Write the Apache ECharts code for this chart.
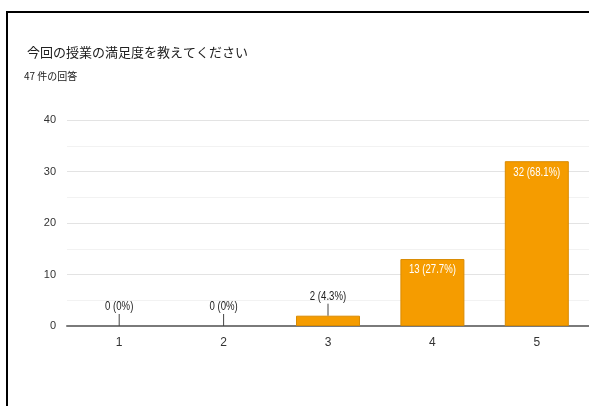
<!DOCTYPE html>
<html>
<head>
<meta charset="utf-8">
<script src="https://cdn.jsdelivr.net/npm/echarts@6/dist/echarts.min.js"></script>
<style>
html,body{margin:0;padding:0;background:#fff;overflow:hidden;}
#wrap{position:relative;width:589px;height:406px;overflow:hidden;}
#c{position:absolute;left:0;top:0;width:589px;height:406px;}
#frame{position:absolute;left:6px;top:11px;width:600px;height:420px;border-left:2px solid #000;border-top:2px solid #000;pointer-events:none;}
</style>
</head>
<body>
<div id="wrap"><div id="c"></div><div id="frame"></div></div>
<script>
const titleText = '今回の授業の満足度を教えてください';
const subtitleText = '47 件の回答';
const categories = ['1', '2', '3', '4', '5'];
const counts = [0, 0, 2, 13, 32];
const percents = ['0%', '0%', '4.3%', '27.7%', '68.1%'];
const yTicks = { min: 0, max: 40, interval: 10 };

const SANS = "'Liberation Sans', Arial, sans-serif";
const CJK = "'Noto Sans CJK JP', 'Noto Sans', sans-serif";
const insideThreshold = 5;
const condense = 0.8;

const labelText = i => counts[i] + ' (' + percents[i] + ')';
const labelData = counts.map((v, i) => [i, v]);
const barData = counts.map(v => ({
  value: v,
  itemStyle: { borderWidth: v > 0 ? 1 : 0, opacity: v > 0 ? 1 : 0 }
}));

const chart = echarts.init(document.getElementById('c'), null, { renderer: 'canvas' });
chart.setOption({
  animation: false,
  backgroundColor: '#ffffff',
  title: [
    { text: titleText, left: 22, top: 41,
      textStyle: { fontFamily: CJK, fontSize: 13, fontWeight: 'normal', color: '#202020' } },
    { text: subtitleText, left: 19, top: 66,
      textStyle: { fontFamily: CJK, fontSize: 10, fontWeight: 'normal', color: '#202020' } }
  ],
  grid: { left: 67, top: 120, right: -3, bottom: 80 },
  xAxis: {
    type: 'category', data: categories,
    axisLine: { show: true, lineStyle: { color: '#7a7a7a', width: 2 } },
    axisTick: { show: false },
    axisLabel: { color: '#333333', fontFamily: SANS, fontSize: 12, margin: 11 }
  },
  yAxis: {
    type: 'value', min: yTicks.min, max: yTicks.max, interval: yTicks.interval,
    axisLine: { show: false }, axisTick: { show: false },
    axisLabel: { color: '#333333', fontFamily: SANS, fontSize: 11, margin: 11 },
    splitLine: { lineStyle: { color: '#e3e3e3', width: 1 } },
    minorTick: { show: false, splitNumber: 2 },
    minorSplitLine: { show: true, lineStyle: { color: '#f2f2f2', width: 1 } }
  },
  series: [
    { type: 'bar', data: barData, barWidth: 64,
      itemStyle: { color: '#f59c00', borderColor: '#d98a00', borderWidth: 1 }, z: 3 },
    { type: 'custom', data: labelData, z: 6,
      renderItem: (params, api) => {
        const idx = api.value(0);
        const val = api.value(1);
        const p = api.coord([idx, val]);
        if (val >= insideThreshold) {
          return {
            type: 'text', x: p[0], y: p[1] + 5, scaleX: condense,
            style: { text: labelText(idx), fill: '#ffffff', font: '12px ' + SANS,
                     textAlign: 'center', textVerticalAlign: 'top' }
          };
        }
        const top = p[1] - 12;
        return {
          type: 'group',
          children: [
            { type: 'line', shape: { x1: p[0], y1: p[1], x2: p[0], y2: top },
              style: { stroke: '#444444', lineWidth: 1 } },
            { type: 'text', x: p[0], y: top - 1, scaleX: condense,
              style: { text: labelText(idx), fill: '#222222', font: '12px ' + SANS,
                       textAlign: 'center', textVerticalAlign: 'bottom' } }
          ]
        };
      } }
  ]
});
</script>
</body>
</html>
